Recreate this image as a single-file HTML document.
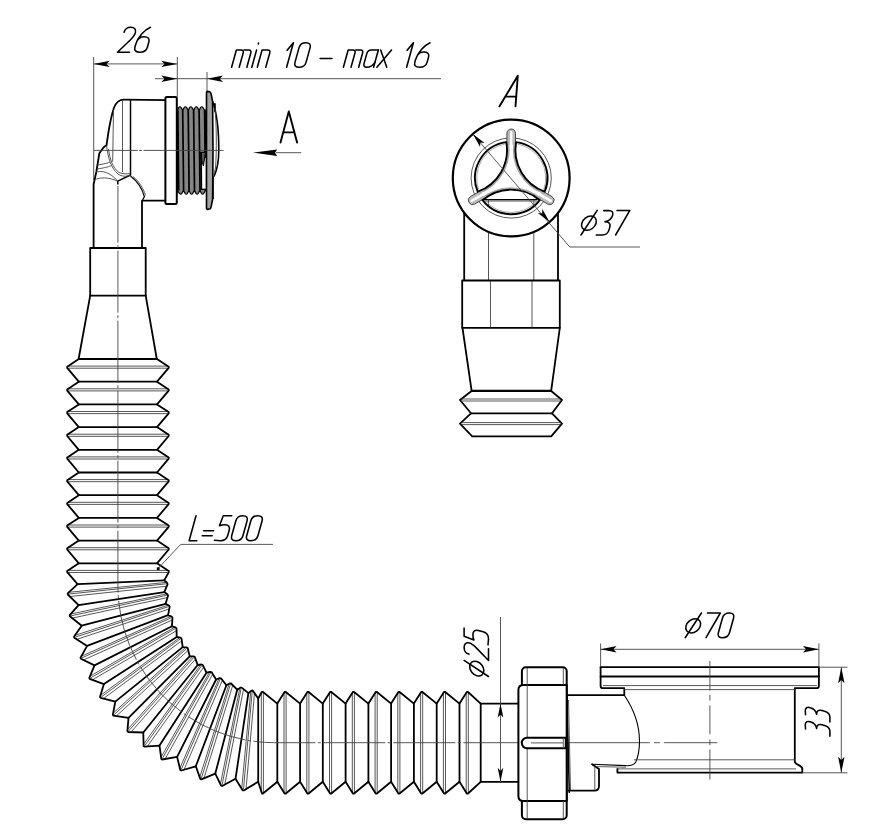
<!DOCTYPE html>
<html><head><meta charset="utf-8"><title>Drawing</title>
<style>html,body{margin:0;padding:0;background:#fff;font-family:"Liberation Sans",sans-serif;}svg{display:block}</style>
</head><body>
<svg width="869" height="830" viewBox="0 0 869 830">
<rect width="869" height="830" fill="#fff"/>
<line x1="93.7" y1="57.0" x2="93.7" y2="180.0" stroke="#444" stroke-width="0.9" fill="none"/>
<line x1="177.3" y1="57.0" x2="177.3" y2="97.0" stroke="#444" stroke-width="0.9" fill="none"/>
<line x1="207.0" y1="72.0" x2="207.0" y2="91.0" stroke="#444" stroke-width="0.9" fill="none"/>
<line x1="93.7" y1="63.9" x2="177.3" y2="63.9" stroke="#444" stroke-width="0.9" fill="none"/>
<polygon points="93.7,63.9 109.7,60.7 106.5,63.9 109.7,67.1" fill="#000"/>
<polygon points="177.3,63.9 161.3,67.1 164.5,63.9 161.3,60.7" fill="#000"/>
<line x1="155.0" y1="78.7" x2="441.0" y2="78.7" stroke="#444" stroke-width="0.9" fill="none"/>
<polygon points="177.3,78.7 161.3,81.9 164.5,78.7 161.3,75.5" fill="#000"/>
<polygon points="207.0,78.7 223.0,75.5 219.8,78.7 223.0,81.9" fill="#000"/>
<path d="M165.4,100.2 L124,99.7 C119,99.7 116.3,101.8 113.9,108 C111.2,116 109.6,124.8 108,135 L106.5,145.3 C104,146 102.4,148.4 99.3,153.5 L96.3,172 L93.6,184.3 L93.6,248" stroke="#000" stroke-width="1.8" fill="none" stroke-linejoin="round" stroke-linecap="round"/>
<path d="M142,248 L142,200.7 L165.4,200.7" stroke="#000" stroke-width="1.8" fill="none" stroke-linejoin="round" stroke-linecap="round"/>
<path d="M130.5,100.2 L130.5,175 L117.8,181.2 L117.8,184.5" stroke="#000" stroke-width="1.5" fill="none" stroke-linejoin="round"/>
<path d="M130.5,176 C137,181 142,188 144.4,196.6 L142.3,200.5" stroke="#000" stroke-width="1.2" fill="none" stroke-linejoin="round"/>
<path d="M133,176.5 C138.5,181 143.5,188 145.5,195.5" stroke="#444" stroke-width="0.9" fill="none"/>
<line x1="122.5" y1="100.5" x2="122.5" y2="172.0" stroke="#444" stroke-width="0.9" fill="none"/>
<path d="M113.5,110 L112.7,161.7" stroke="#444" stroke-width="0.9" fill="none"/>
<path d="M106.5,145.3 C108,158 111,168 118,174 C122,176.5 126,177 130.5,175" stroke="#444" stroke-width="0.9" fill="none"/>
<path d="M108.5,149 C110,160 113,168 119,172.5 C123,174 127,174.5 130.5,173" stroke="#444" stroke-width="0.9" fill="none"/>
<path d="M97.5,165 C104,164 108,163 110,162" stroke="#444" stroke-width="0.9" fill="none"/>
<path d="M96.8,169 C104,168 108,167 111.5,165.5" stroke="#444" stroke-width="0.9" fill="none"/>
<path d="M94.5,180 C100,177 108,177 117.8,181.2" stroke="#444" stroke-width="0.9" fill="none"/>
<path d="M96,172 C102,170.5 110,172 117.8,181.2" stroke="#444" stroke-width="0.9" fill="none"/>
<rect x="165.4" y="97" width="11.4" height="107" rx="1.5" fill="#fff" stroke="#000" stroke-width="2"/>
<path d="M177.5,110 L178.7,107.5 Q179.9,106 181.1,107.5 L182.7,110.4 L184.2,107.5 Q185.4,106 186.6,107.5 L188.2,110.4 L189.6,107.5 Q190.8,106 192.0,107.5 L193.6,110.4 L195.1,107.5 Q196.3,106 197.5,107.5 L199.1,110.4 L200.6,107.5 Q201.8,106 203.0,107.5 L204.6,110.4 L205.3,110 L205.3,190.8 L205.4,190.4 L203.8,193.3 Q202.6,194.8 201.4,193.3 L199.9,190.4 L198.3,193.3 Q197.1,194.8 195.9,193.3 L194.4,190.4 L192.8,193.3 Q191.6,194.8 190.4,193.3 L189.0,190.4 L187.4,193.3 Q186.2,194.8 185.0,193.3 L183.5,190.4 L181.9,193.3 Q180.7,194.8 179.5,193.3 L177.5,190.8 Z" fill="#858585" stroke="#000" stroke-width="1.2" stroke-linejoin="round"/>
<line x1="177.8" y1="110.2" x2="178.7" y2="190.6" stroke="#000" stroke-width="1.7"/>
<line x1="182.7" y1="110.2" x2="183.6" y2="190.6" stroke="#000" stroke-width="1.7"/>
<line x1="188.2" y1="110.2" x2="189.1" y2="190.6" stroke="#000" stroke-width="1.7"/>
<line x1="193.6" y1="110.2" x2="194.5" y2="190.6" stroke="#000" stroke-width="1.7"/>
<line x1="199.1" y1="110.2" x2="200.0" y2="190.6" stroke="#000" stroke-width="1.7"/>
<line x1="204.6" y1="110.2" x2="205.5" y2="190.6" stroke="#000" stroke-width="1.7"/>
<path d="M206.5,92.5 Q206.5,91.4 207.6,91.4 L209.6,91.8 Q210.8,92.2 211.1,94 L212.6,101.5 L213,150 L212.6,199.5 L211.1,206.8 Q210.8,208.8 209.6,209 L207.6,209.4 Q206.5,209.4 206.5,208.3 Z" fill="#a2a2a2" stroke="#000" stroke-width="1.6" stroke-linejoin="round"/>
<path d="M212.6,101.5 C216.5,112 218.8,130 218.8,150 C218.8,160 217,170 214,176.5" stroke="#000" stroke-width="1.6" fill="none"/>
<path d="M212.8,104 L215,104 L215,112" stroke="#000" stroke-width="1.6" fill="none"/>
<path d="M215,108 C216.5,125 216.8,150 215.5,168 L213.2,176" stroke="#444" stroke-width="0.9" fill="none"/>
<path d="M213.2,176 L213.2,199" stroke="#000" stroke-width="1.2" fill="none"/>
<rect x="201.6" y="158" width="4.0" height="31.3" fill="#fff"/>
<path d="M200.6,152.3 L205.6,152.3 L203.4,166 L201.6,160 Z" fill="#555" stroke="#000" stroke-width="1"/>
<line x1="201.2" y1="189.3" x2="206.2" y2="189.3" stroke="#000" stroke-width="1.3"/>
<line x1="201.0" y1="152.0" x2="201.4" y2="190.0" stroke="#000" stroke-width="1.7"/>
<line x1="94.0" y1="150.4" x2="137.8" y2="150.4" stroke="#444" stroke-width="0.9" fill="none"/>
<line x1="139.0" y1="150.4" x2="142.0" y2="150.4" stroke="#444" stroke-width="0.9" fill="none"/>
<line x1="143.6" y1="150.4" x2="223.6" y2="150.4" stroke="#444" stroke-width="0.9" fill="none"/>
<path d="M90.2,248.0 L145.7,248.0 L145.7,295.7 L90.2,295.7 Z" stroke="#000" stroke-width="1.8" fill="none" stroke-linejoin="round" stroke-linecap="round"/>
<path d="M90.2,295.7 L78.6,359.0 L156.8,359.0 L145.7,295.7" stroke="#000" stroke-width="1.8" fill="none" stroke-linejoin="round" stroke-linecap="round"/>
<line x1="276.0" y1="152.7" x2="301.2" y2="152.7" stroke="#444" stroke-width="0.9" fill="none"/>
<polygon points="252.9,152.7 277.2,149.5 275,152.7 277.2,155.9" fill="#000"/>
<path d="M280.5,142.5 L288.8,111.5 L297.1,142.5 M283.7,132.4 L294.3,132.4" stroke="#000" stroke-width="1.9" fill="none" stroke-linecap="round" stroke-linejoin="round"/>
<line x1="78.8" y1="359.0" x2="157.0" y2="359.0" stroke="#000" stroke-width="1.8" fill="none" stroke-linejoin="round" stroke-linecap="round"/>
<line x1="78.8" y1="381.7" x2="157.0" y2="381.7" stroke="#000" stroke-width="1.8" fill="none" stroke-linejoin="round" stroke-linecap="round"/>
<line x1="68.2" y1="366.1" x2="167.7" y2="366.1" stroke="#444" stroke-width="0.9" fill="none"/>
<line x1="68.2" y1="368.2" x2="167.7" y2="368.2" stroke="#444" stroke-width="0.9" fill="none"/>
<line x1="78.8" y1="404.4" x2="157.0" y2="404.4" stroke="#000" stroke-width="1.8" fill="none" stroke-linejoin="round" stroke-linecap="round"/>
<line x1="68.2" y1="388.8" x2="167.7" y2="388.8" stroke="#444" stroke-width="0.9" fill="none"/>
<line x1="68.2" y1="390.9" x2="167.7" y2="390.9" stroke="#444" stroke-width="0.9" fill="none"/>
<line x1="78.8" y1="427.1" x2="157.0" y2="427.1" stroke="#000" stroke-width="1.8" fill="none" stroke-linejoin="round" stroke-linecap="round"/>
<line x1="68.2" y1="411.5" x2="167.7" y2="411.5" stroke="#444" stroke-width="0.9" fill="none"/>
<line x1="68.2" y1="413.6" x2="167.7" y2="413.6" stroke="#444" stroke-width="0.9" fill="none"/>
<line x1="78.8" y1="449.8" x2="157.0" y2="449.8" stroke="#000" stroke-width="1.8" fill="none" stroke-linejoin="round" stroke-linecap="round"/>
<line x1="68.2" y1="434.2" x2="167.7" y2="434.2" stroke="#444" stroke-width="0.9" fill="none"/>
<line x1="68.2" y1="436.3" x2="167.7" y2="436.3" stroke="#444" stroke-width="0.9" fill="none"/>
<line x1="78.8" y1="472.5" x2="157.0" y2="472.5" stroke="#000" stroke-width="1.8" fill="none" stroke-linejoin="round" stroke-linecap="round"/>
<line x1="68.2" y1="456.9" x2="167.7" y2="456.9" stroke="#444" stroke-width="0.9" fill="none"/>
<line x1="68.2" y1="459.0" x2="167.7" y2="459.0" stroke="#444" stroke-width="0.9" fill="none"/>
<line x1="78.8" y1="495.2" x2="157.0" y2="495.2" stroke="#000" stroke-width="1.8" fill="none" stroke-linejoin="round" stroke-linecap="round"/>
<line x1="68.2" y1="479.6" x2="167.7" y2="479.6" stroke="#444" stroke-width="0.9" fill="none"/>
<line x1="68.2" y1="481.7" x2="167.7" y2="481.7" stroke="#444" stroke-width="0.9" fill="none"/>
<line x1="78.8" y1="517.9" x2="157.0" y2="517.9" stroke="#000" stroke-width="1.8" fill="none" stroke-linejoin="round" stroke-linecap="round"/>
<line x1="68.2" y1="502.3" x2="167.7" y2="502.3" stroke="#444" stroke-width="0.9" fill="none"/>
<line x1="68.2" y1="504.4" x2="167.7" y2="504.4" stroke="#444" stroke-width="0.9" fill="none"/>
<line x1="78.8" y1="540.6" x2="157.0" y2="540.6" stroke="#000" stroke-width="1.8" fill="none" stroke-linejoin="round" stroke-linecap="round"/>
<line x1="68.2" y1="525.0" x2="167.7" y2="525.0" stroke="#444" stroke-width="0.9" fill="none"/>
<line x1="68.2" y1="527.1" x2="167.7" y2="527.1" stroke="#444" stroke-width="0.9" fill="none"/>
<line x1="78.8" y1="563.3" x2="157.0" y2="563.3" stroke="#000" stroke-width="1.8" fill="none" stroke-linejoin="round" stroke-linecap="round"/>
<line x1="68.2" y1="547.7" x2="167.7" y2="547.7" stroke="#444" stroke-width="0.9" fill="none"/>
<line x1="68.2" y1="549.8" x2="167.7" y2="549.8" stroke="#444" stroke-width="0.9" fill="none"/>
<line x1="68.2" y1="570.4" x2="167.7" y2="570.4" stroke="#444" stroke-width="0.9" fill="none"/>
<line x1="68.2" y1="572.5" x2="167.7" y2="572.5" stroke="#444" stroke-width="0.9" fill="none"/>
<line x1="77.6" y1="584.2" x2="164.2" y2="580.4" stroke="#000" stroke-width="1.8" fill="none" stroke-linejoin="round" stroke-linecap="round"/>
<line x1="68.9" y1="592.3" x2="166.4" y2="582.4" stroke="#444" stroke-width="0.9" fill="none"/>
<line x1="69.0" y1="594.0" x2="166.4" y2="583.8" stroke="#444" stroke-width="0.9" fill="none"/>
<line x1="69.1" y1="596.6" x2="166.4" y2="586.3" stroke="#444" stroke-width="0.9" fill="none"/>
<line x1="78.6" y1="605.1" x2="164.3" y2="592.1" stroke="#000" stroke-width="1.8" fill="none" stroke-linejoin="round" stroke-linecap="round"/>
<line x1="70.8" y1="614.0" x2="166.7" y2="593.9" stroke="#444" stroke-width="0.9" fill="none"/>
<line x1="71.0" y1="615.8" x2="166.8" y2="595.3" stroke="#444" stroke-width="0.9" fill="none"/>
<line x1="71.4" y1="618.3" x2="167.1" y2="597.7" stroke="#444" stroke-width="0.9" fill="none"/>
<line x1="81.7" y1="625.7" x2="165.6" y2="603.8" stroke="#000" stroke-width="1.8" fill="none" stroke-linejoin="round" stroke-linecap="round"/>
<line x1="74.9" y1="635.4" x2="168.2" y2="605.2" stroke="#444" stroke-width="0.9" fill="none"/>
<line x1="75.4" y1="637.1" x2="168.5" y2="606.6" stroke="#444" stroke-width="0.9" fill="none"/>
<line x1="76.0" y1="639.6" x2="169.0" y2="609.0" stroke="#444" stroke-width="0.9" fill="none"/>
<line x1="87.1" y1="645.9" x2="168.1" y2="615.2" stroke="#000" stroke-width="1.8" fill="none" stroke-linejoin="round" stroke-linecap="round"/>
<line x1="81.3" y1="656.3" x2="170.9" y2="616.4" stroke="#444" stroke-width="0.9" fill="none"/>
<line x1="81.9" y1="657.9" x2="171.3" y2="617.8" stroke="#444" stroke-width="0.9" fill="none"/>
<line x1="82.8" y1="660.3" x2="172.0" y2="620.1" stroke="#444" stroke-width="0.9" fill="none"/>
<line x1="94.5" y1="665.4" x2="171.9" y2="626.3" stroke="#000" stroke-width="1.8" fill="none" stroke-linejoin="round" stroke-linecap="round"/>
<line x1="89.9" y1="676.3" x2="174.7" y2="627.2" stroke="#444" stroke-width="0.9" fill="none"/>
<line x1="90.7" y1="677.9" x2="175.3" y2="628.5" stroke="#444" stroke-width="0.9" fill="none"/>
<line x1="91.8" y1="680.2" x2="176.3" y2="630.8" stroke="#444" stroke-width="0.9" fill="none"/>
<line x1="103.9" y1="684.1" x2="176.7" y2="637.0" stroke="#000" stroke-width="1.8" fill="none" stroke-linejoin="round" stroke-linecap="round"/>
<line x1="100.5" y1="695.4" x2="179.7" y2="637.6" stroke="#444" stroke-width="0.9" fill="none"/>
<line x1="101.4" y1="696.9" x2="180.4" y2="638.8" stroke="#444" stroke-width="0.9" fill="none"/>
<line x1="102.8" y1="699.0" x2="181.6" y2="640.9" stroke="#444" stroke-width="0.9" fill="none"/>
<line x1="115.3" y1="701.6" x2="182.7" y2="647.1" stroke="#000" stroke-width="1.8" fill="none" stroke-linejoin="round" stroke-linecap="round"/>
<line x1="113.1" y1="713.2" x2="185.7" y2="647.3" stroke="#444" stroke-width="0.9" fill="none"/>
<line x1="114.2" y1="714.6" x2="186.5" y2="648.5" stroke="#444" stroke-width="0.9" fill="none"/>
<line x1="115.8" y1="716.5" x2="188.0" y2="650.5" stroke="#444" stroke-width="0.9" fill="none"/>
<line x1="128.5" y1="717.8" x2="189.7" y2="656.4" stroke="#000" stroke-width="1.8" fill="none" stroke-linejoin="round" stroke-linecap="round"/>
<line x1="127.5" y1="729.6" x2="192.7" y2="656.4" stroke="#444" stroke-width="0.9" fill="none"/>
<line x1="128.7" y1="730.9" x2="193.7" y2="657.5" stroke="#444" stroke-width="0.9" fill="none"/>
<line x1="130.5" y1="732.6" x2="195.3" y2="659.3" stroke="#444" stroke-width="0.9" fill="none"/>
<line x1="143.3" y1="732.5" x2="197.7" y2="665.0" stroke="#000" stroke-width="1.8" fill="none" stroke-linejoin="round" stroke-linecap="round"/>
<line x1="143.5" y1="744.3" x2="200.7" y2="664.7" stroke="#444" stroke-width="0.9" fill="none"/>
<line x1="144.9" y1="745.5" x2="201.7" y2="665.7" stroke="#444" stroke-width="0.9" fill="none"/>
<line x1="146.9" y1="747.1" x2="203.6" y2="667.3" stroke="#444" stroke-width="0.9" fill="none"/>
<line x1="159.5" y1="745.6" x2="206.5" y2="672.7" stroke="#000" stroke-width="1.8" fill="none" stroke-linejoin="round" stroke-linecap="round"/>
<line x1="161.0" y1="757.3" x2="209.5" y2="672.1" stroke="#444" stroke-width="0.9" fill="none"/>
<line x1="162.5" y1="758.3" x2="210.6" y2="672.9" stroke="#444" stroke-width="0.9" fill="none"/>
<line x1="164.7" y1="759.7" x2="212.6" y2="674.4" stroke="#444" stroke-width="0.9" fill="none"/>
<line x1="177.1" y1="756.9" x2="216.1" y2="679.5" stroke="#000" stroke-width="1.8" fill="none" stroke-linejoin="round" stroke-linecap="round"/>
<line x1="179.8" y1="768.4" x2="219.0" y2="678.5" stroke="#444" stroke-width="0.9" fill="none"/>
<line x1="181.4" y1="769.2" x2="220.2" y2="679.2" stroke="#444" stroke-width="0.9" fill="none"/>
<line x1="183.7" y1="770.4" x2="222.3" y2="680.5" stroke="#444" stroke-width="0.9" fill="none"/>
<line x1="195.8" y1="766.3" x2="226.4" y2="685.2" stroke="#000" stroke-width="1.8" fill="none" stroke-linejoin="round" stroke-linecap="round"/>
<line x1="199.7" y1="777.4" x2="229.1" y2="683.9" stroke="#444" stroke-width="0.9" fill="none"/>
<line x1="201.4" y1="778.1" x2="230.4" y2="684.5" stroke="#444" stroke-width="0.9" fill="none"/>
<line x1="203.7" y1="779.0" x2="232.7" y2="685.5" stroke="#444" stroke-width="0.9" fill="none"/>
<line x1="215.3" y1="773.6" x2="237.2" y2="689.7" stroke="#000" stroke-width="1.8" fill="none" stroke-linejoin="round" stroke-linecap="round"/>
<line x1="220.4" y1="784.3" x2="239.8" y2="688.2" stroke="#444" stroke-width="0.9" fill="none"/>
<line x1="222.1" y1="784.8" x2="241.1" y2="688.6" stroke="#444" stroke-width="0.9" fill="none"/>
<line x1="224.6" y1="785.4" x2="243.5" y2="689.4" stroke="#444" stroke-width="0.9" fill="none"/>
<line x1="235.5" y1="778.8" x2="248.4" y2="693.1" stroke="#000" stroke-width="1.8" fill="none" stroke-linejoin="round" stroke-linecap="round"/>
<line x1="241.7" y1="788.9" x2="250.8" y2="691.3" stroke="#444" stroke-width="0.9" fill="none"/>
<line x1="243.5" y1="789.2" x2="252.2" y2="691.6" stroke="#444" stroke-width="0.9" fill="none"/>
<line x1="246.0" y1="789.6" x2="254.6" y2="692.1" stroke="#444" stroke-width="0.9" fill="none"/>
<line x1="258.2" y1="698.5" x2="258.2" y2="781.8" stroke="#000" stroke-width="1.8" fill="none" stroke-linejoin="round" stroke-linecap="round"/>
<line x1="261.3" y1="693.0" x2="261.3" y2="792.5" stroke="#444" stroke-width="0.9" fill="none"/>
<line x1="263.4" y1="693.0" x2="263.4" y2="792.5" stroke="#444" stroke-width="0.9" fill="none"/>
<line x1="277.3" y1="703.6" x2="277.3" y2="781.8" stroke="#000" stroke-width="1.8" fill="none" stroke-linejoin="round" stroke-linecap="round"/>
<line x1="284.0" y1="693.0" x2="284.0" y2="792.5" stroke="#444" stroke-width="0.9" fill="none"/>
<line x1="286.1" y1="693.0" x2="286.1" y2="792.5" stroke="#444" stroke-width="0.9" fill="none"/>
<line x1="300.1" y1="703.6" x2="300.1" y2="781.8" stroke="#000" stroke-width="1.8" fill="none" stroke-linejoin="round" stroke-linecap="round"/>
<line x1="306.8" y1="693.0" x2="306.8" y2="792.5" stroke="#444" stroke-width="0.9" fill="none"/>
<line x1="308.9" y1="693.0" x2="308.9" y2="792.5" stroke="#444" stroke-width="0.9" fill="none"/>
<line x1="322.8" y1="703.6" x2="322.8" y2="781.8" stroke="#000" stroke-width="1.8" fill="none" stroke-linejoin="round" stroke-linecap="round"/>
<line x1="329.5" y1="693.0" x2="329.5" y2="792.5" stroke="#444" stroke-width="0.9" fill="none"/>
<line x1="331.6" y1="693.0" x2="331.6" y2="792.5" stroke="#444" stroke-width="0.9" fill="none"/>
<line x1="345.6" y1="703.6" x2="345.6" y2="781.8" stroke="#000" stroke-width="1.8" fill="none" stroke-linejoin="round" stroke-linecap="round"/>
<line x1="352.3" y1="693.0" x2="352.3" y2="792.5" stroke="#444" stroke-width="0.9" fill="none"/>
<line x1="354.4" y1="693.0" x2="354.4" y2="792.5" stroke="#444" stroke-width="0.9" fill="none"/>
<line x1="368.4" y1="703.6" x2="368.4" y2="781.8" stroke="#000" stroke-width="1.8" fill="none" stroke-linejoin="round" stroke-linecap="round"/>
<line x1="375.1" y1="693.0" x2="375.1" y2="792.5" stroke="#444" stroke-width="0.9" fill="none"/>
<line x1="377.2" y1="693.0" x2="377.2" y2="792.5" stroke="#444" stroke-width="0.9" fill="none"/>
<line x1="391.1" y1="703.6" x2="391.1" y2="781.8" stroke="#000" stroke-width="1.8" fill="none" stroke-linejoin="round" stroke-linecap="round"/>
<line x1="397.8" y1="693.0" x2="397.8" y2="792.5" stroke="#444" stroke-width="0.9" fill="none"/>
<line x1="399.9" y1="693.0" x2="399.9" y2="792.5" stroke="#444" stroke-width="0.9" fill="none"/>
<line x1="413.9" y1="703.6" x2="413.9" y2="781.8" stroke="#000" stroke-width="1.8" fill="none" stroke-linejoin="round" stroke-linecap="round"/>
<line x1="420.6" y1="693.0" x2="420.6" y2="792.5" stroke="#444" stroke-width="0.9" fill="none"/>
<line x1="422.7" y1="693.0" x2="422.7" y2="792.5" stroke="#444" stroke-width="0.9" fill="none"/>
<line x1="436.7" y1="703.6" x2="436.7" y2="781.8" stroke="#000" stroke-width="1.8" fill="none" stroke-linejoin="round" stroke-linecap="round"/>
<line x1="443.4" y1="693.0" x2="443.4" y2="792.5" stroke="#444" stroke-width="0.9" fill="none"/>
<line x1="445.5" y1="693.0" x2="445.5" y2="792.5" stroke="#444" stroke-width="0.9" fill="none"/>
<line x1="459.5" y1="703.6" x2="459.5" y2="781.8" stroke="#000" stroke-width="1.8" fill="none" stroke-linejoin="round" stroke-linecap="round"/>
<line x1="466.2" y1="693.0" x2="466.2" y2="792.5" stroke="#444" stroke-width="0.9" fill="none"/>
<line x1="468.3" y1="693.0" x2="468.3" y2="792.5" stroke="#444" stroke-width="0.9" fill="none"/>
<path d="M78.8,359.0 L67.2,366.7 L67.2,367.9 L78.8,381.7 L67.2,389.4 L67.2,390.6 L78.8,404.4 L67.2,412.1 L67.2,413.3 L78.8,427.1 L67.2,434.8 L67.2,436.0 L78.8,449.8 L67.2,457.5 L67.2,458.7 L78.8,472.5 L67.2,480.2 L67.2,481.4 L78.8,495.2 L67.2,502.9 L67.2,504.1 L78.8,517.9 L67.2,525.6 L67.2,526.8 L78.8,540.6 L67.2,548.3 L67.2,549.5 L78.8,563.3 L67.2,571.0 L67.2,572.2 L77.6,584.2 L67.7,593.4 L67.8,594.5 L78.6,605.1 L69.7,615.2 L69.9,616.3 L81.7,625.7 L74.0,636.7 L74.3,637.8 L87.1,645.9 L80.5,657.7 L80.9,658.7 L94.5,665.4 L89.3,677.8 L89.7,678.8 L103.9,684.1 L100.0,696.9 L100.6,697.8 L115.3,701.6 L112.8,714.8 L113.5,715.6 L128.5,717.8 L127.4,731.2 L128.1,732.0 L143.3,732.5 L143.6,746.0 L144.4,746.6 L159.5,745.6 L161.3,758.9 L162.2,759.5 L177.1,756.9 L180.3,770.0 L181.2,770.5 L195.8,766.3 L200.3,778.9 L201.3,779.3 L215.3,773.6 L221.1,785.7 L222.2,786.0 L235.5,778.8 L242.6,790.3 L243.7,790.4 L258.2,781.8 L262.0,793.5 L263.0,793.5 L277.3,781.8 L284.6,793.5 L285.8,793.5 L300.1,781.8 L307.4,793.5 L308.6,793.5 L322.8,781.8 L330.1,793.5 L331.3,793.5 L345.6,781.8 L352.9,793.5 L354.1,793.5 L368.4,781.8 L375.7,793.5 L376.9,793.5 L391.1,781.8 L398.4,793.5 L399.6,793.5 L413.9,781.8 L421.2,793.5 L422.4,793.5 L436.7,781.8 L444.0,793.5 L445.2,793.5 L459.5,781.8 L466.8,793.5 L468.0,793.5 L480.7,781.8" stroke="#000" stroke-width="1.8" fill="none" stroke-linejoin="round" stroke-linecap="round"/>
<path d="M157.0,359.0 L168.7,366.7 L168.7,367.9 L157.0,381.7 L168.7,389.4 L168.7,390.6 L157.0,404.4 L168.7,412.1 L168.7,413.3 L157.0,427.1 L168.7,434.8 L168.7,436.0 L157.0,449.8 L168.7,457.5 L168.7,458.7 L157.0,472.5 L168.7,480.2 L168.7,481.4 L157.0,495.2 L168.7,502.9 L168.7,504.1 L157.0,517.9 L168.7,525.6 L168.7,526.8 L157.0,540.6 L168.7,548.3 L168.7,549.5 L157.0,563.3 L168.7,571.0 L168.7,572.2 L164.2,580.4 L167.0,582.8 L167.6,584.1 L164.3,592.1 L167.3,594.2 L168.1,595.4 L165.6,603.8 L168.9,605.5 L169.7,606.7 L168.1,615.2 L171.6,616.6 L172.5,617.7 L171.9,626.3 L175.4,627.3 L176.5,628.3 L176.7,637.0 L180.4,637.6 L181.5,638.5 L182.7,647.1 L186.4,647.3 L187.7,648.0 L189.7,656.4 L193.4,656.3 L194.7,656.9 L197.7,665.0 L201.4,664.5 L202.7,665.0 L206.5,672.7 L210.1,671.8 L211.5,672.1 L216.1,679.5 L219.6,678.2 L221.0,678.3 L226.4,685.2 L229.7,683.5 L231.1,683.5 L237.2,689.7 L240.3,687.7 L241.7,687.6 L248.4,693.1 L251.3,690.8 L252.7,690.5 L258.2,698.5 L261.8,692.0 L263.0,692.0 L277.3,703.6 L284.6,692.0 L285.8,692.0 L300.1,703.6 L307.4,692.0 L308.6,692.0 L322.8,703.6 L330.1,692.0 L331.3,692.0 L345.6,703.6 L352.9,692.0 L354.1,692.0 L368.4,703.6 L375.7,692.0 L376.9,692.0 L391.1,703.6 L398.4,692.0 L399.6,692.0 L413.9,703.6 L421.2,692.0 L422.4,692.0 L436.7,703.6 L444.0,692.0 L445.2,692.0 L459.5,703.6 L466.8,692.0 L468.0,692.0 L480.7,703.6" stroke="#000" stroke-width="1.8" fill="none" stroke-linejoin="round" stroke-linecap="round"/>
<line x1="480.7" y1="703.6" x2="480.7" y2="781.8" stroke="#000" stroke-width="1.8" fill="none" stroke-linejoin="round" stroke-linecap="round"/>
<path d="M117.9,186 L117.9,585.6 A156.9,156.9 0 0 0 274.8,742.7 L480.7,742.7" stroke="#444" stroke-width="0.9" fill="none" stroke-dasharray="62 2.5 3 2.5" stroke-dashoffset="5.3"/>
<line x1="480.7" y1="742.7" x2="649.7" y2="742.7" stroke="#444" stroke-width="0.9" fill="none"/>
<line x1="654.0" y1="742.7" x2="659.8" y2="742.7" stroke="#444" stroke-width="0.9" fill="none"/>
<line x1="664.1" y1="742.7" x2="717.3" y2="742.7" stroke="#444" stroke-width="0.9" fill="none"/>
<line x1="480.7" y1="703.6" x2="518.4" y2="703.6" stroke="#000" stroke-width="1.8" fill="none" stroke-linejoin="round" stroke-linecap="round"/>
<line x1="480.7" y1="781.8" x2="518.4" y2="781.8" stroke="#000" stroke-width="1.8" fill="none" stroke-linejoin="round" stroke-linecap="round"/>
<path d="M158.5,568 L180.7,544.4 L273,544.4" stroke="#444" stroke-width="0.9" fill="none"/>
<rect x="156.8" y="567.3" width="2.8" height="2.8" fill="#000"/>
<path d="M0,1 L0,0 L0.31,0" transform="matrix(25.000,0,6.933,-25.000,189.10,540.70)" stroke="#000" stroke-width="1.55" fill="none" vector-effect="non-scaling-stroke" stroke-linecap="round" stroke-linejoin="round"/>
<path d="M0,0.4 L0.4,0.4" transform="matrix(25.000,0,6.933,-25.000,200.80,540.70)" stroke="#000" stroke-width="1.55" fill="none" vector-effect="non-scaling-stroke" stroke-linecap="round" stroke-linejoin="round"/>
<path d="M0,0.2 L0.4,0.2" transform="matrix(25.000,0,6.933,-25.000,200.80,540.70)" stroke="#000" stroke-width="1.55" fill="none" vector-effect="non-scaling-stroke" stroke-linecap="round" stroke-linejoin="round"/>
<path d="M0.42,1 L0.08,1 L0.04,0.6 C0.1,0.63 0.18,0.64 0.25,0.64 C0.4,0.64 0.48,0.55 0.48,0.42 L0.48,0.22 C0.48,0.08 0.4,0 0.25,0 L0,0.02" transform="matrix(25.000,0,6.933,-25.000,214.30,540.70)" stroke="#000" stroke-width="1.55" fill="none" vector-effect="non-scaling-stroke" stroke-linecap="round" stroke-linejoin="round"/>
<path d="M0,0.2 L0,0.8 C0,0.93 0.08,1 0.225,1 C0.37,1 0.45,0.93 0.45,0.8 L0.45,0.2 C0.45,0.07 0.37,0 0.225,0 C0.08,0 0,0.07 0,0.2 Z" transform="matrix(25.000,0,6.933,-25.000,230.30,540.70)" stroke="#000" stroke-width="1.55" fill="none" vector-effect="non-scaling-stroke" stroke-linecap="round" stroke-linejoin="round"/>
<path d="M0,0.2 L0,0.8 C0,0.93 0.08,1 0.225,1 C0.37,1 0.45,0.93 0.45,0.8 L0.45,0.2 C0.45,0.07 0.37,0 0.225,0 C0.08,0 0,0.07 0,0.2 Z" transform="matrix(25.000,0,6.933,-25.000,245.30,540.70)" stroke="#000" stroke-width="1.55" fill="none" vector-effect="non-scaling-stroke" stroke-linecap="round" stroke-linejoin="round"/>
<line x1="500.5" y1="617.0" x2="500.5" y2="782.0" stroke="#444" stroke-width="0.9" fill="none"/>
<polygon points="500.5,703.6 503.3,717.6 500.5,714.4 497.7,717.6" fill="#000"/>
<polygon points="500.5,781.8 497.7,767.8 500.5,771.0 503.3,767.8" fill="#000"/>
<path d="M0.48,0.48 A0.29,0.29 0 1 1 -0.10,0.48 A0.29,0.29 0 1 1 0.48,0.48 Z" transform="matrix(0,-24.400,-24.400,-6.767,488.50,676.50)" stroke="#000" stroke-width="1.55" fill="none" vector-effect="non-scaling-stroke" stroke-linecap="round" stroke-linejoin="round"/>
<path d="M0,0 L0.38,1" transform="matrix(0,-24.400,-24.400,-6.767,488.50,676.50)" stroke="#000" stroke-width="1.55" fill="none" vector-effect="non-scaling-stroke" stroke-linecap="round" stroke-linejoin="round"/>
<path d="M0.04,0.8 C0.04,0.93 0.13,1 0.26,1 C0.4,1 0.5,0.92 0.5,0.78 C0.5,0.68 0.45,0.6 0.38,0.5 L0,0 L0.48,0" transform="matrix(0,-24.400,-24.400,-6.767,488.50,660.50)" stroke="#000" stroke-width="1.55" fill="none" vector-effect="non-scaling-stroke" stroke-linecap="round" stroke-linejoin="round"/>
<path d="M0.42,1 L0.08,1 L0.04,0.6 C0.1,0.63 0.18,0.64 0.25,0.64 C0.4,0.64 0.48,0.55 0.48,0.42 L0.48,0.22 C0.48,0.08 0.4,0 0.25,0 L0,0.02" transform="matrix(0,-24.400,-24.400,-6.767,488.50,645.00)" stroke="#000" stroke-width="1.55" fill="none" vector-effect="non-scaling-stroke" stroke-linecap="round" stroke-linejoin="round"/>
<rect x="521.9" y="667.2" width="44.8" height="152" rx="4" fill="#fff" stroke="#000" stroke-width="2"/>
<path d="M566.7,684.9 L523.4,684.9 Q518.4,684.9 518.4,689.9 L518.4,796.1 Q518.4,801.1 523.4,801.1 L566.7,801.1 Z" fill="#fff" stroke="#000" stroke-width="2" stroke-linejoin="round"/>
<line x1="527.2" y1="668.0" x2="527.2" y2="818.5" stroke="#444" stroke-width="0.9" fill="none"/>
<line x1="563.3" y1="668.0" x2="563.3" y2="684.9" stroke="#444" stroke-width="0.9" fill="none"/>
<line x1="563.3" y1="801.1" x2="563.3" y2="818.5" stroke="#444" stroke-width="0.9" fill="none"/>
<path d="M565.8,737.8 L527,737.8 A5.2,5.2 0 0 0 527,748.2 L565.8,748.2 Z" fill="#fff" stroke="#000" stroke-width="2" stroke-linejoin="round"/>
<line x1="563.3" y1="737.8" x2="563.3" y2="748.2" stroke="#444" stroke-width="0.9" fill="none"/>
<line x1="531.0" y1="742.9" x2="563.0" y2="742.9" stroke="#444" stroke-width="0.9" fill="none"/>
<path d="M566.9,695 L569.3,793" stroke="#000" stroke-width="1.5" fill="none"/>
<path d="M568.5,700 L570.5,790" stroke="#444" stroke-width="0.9" fill="none"/>
<path d="M567.9,695.2 L624.3,695.2 L624.3,689.3" stroke="#000" stroke-width="1.8" fill="none" stroke-linejoin="round" stroke-linecap="round"/>
<path d="M568.8,790.7 L594.4,790.7 Q599,790.7 599,786 L599,768.9 L592,764.3" stroke="#000" stroke-width="1.8" fill="none" stroke-linejoin="round" stroke-linecap="round"/>
<path d="M592,764.3 L626,765.6" stroke="#000" stroke-width="1.1" fill="none"/>
<path d="M597,766.6 L626,767.2" stroke="#444" stroke-width="0.9" fill="none"/>
<path d="M594.8,766.5 L594.8,790" stroke="#444" stroke-width="0.9" fill="none"/>
<path d="M624.3,695.2 C633,708 639.5,725 639.5,741.3 C639.5,750 638,757 635.8,762 C634,765 631,766 626,765.8" stroke="#000" stroke-width="1.1" fill="none"/>
<path d="M600.6,667.2 L818.9,667.2 L818.9,686 Q818.9,688.2 816.7,688.2 L794.8,688.2 L794.8,761.4 C794.8,765.5 801.5,764 802.3,768.5 L802.3,772.6 L617.4,772.6 L617.4,768.9" stroke="#000" stroke-width="1.8" fill="none" stroke-linejoin="round" stroke-linecap="round"/>
<path d="M600.6,667.2 L600.6,686 Q600.6,688.2 602.8,688.2 L624.3,688.2" stroke="#000" stroke-width="1.8" fill="none" stroke-linejoin="round" stroke-linecap="round"/>
<line x1="600.6" y1="676.5" x2="818.9" y2="676.5" stroke="#000" stroke-width="1.8" fill="none" stroke-linejoin="round" stroke-linecap="round"/>
<line x1="603.0" y1="685.6" x2="817.0" y2="685.6" stroke="#444" stroke-width="0.9" fill="none"/>
<line x1="624.3" y1="689.6" x2="794.8" y2="689.6" stroke="#444" stroke-width="0.9" fill="none"/>
<line x1="617.4" y1="768.9" x2="796.0" y2="768.9" stroke="#444" stroke-width="0.9" fill="none"/>
<line x1="634.0" y1="759.8" x2="794.8" y2="759.8" stroke="#444" stroke-width="0.9" fill="none"/>
<line x1="709.9" y1="661.0" x2="709.9" y2="690.5" stroke="#444" stroke-width="0.9" fill="none"/>
<line x1="709.9" y1="694.7" x2="709.9" y2="700.6" stroke="#444" stroke-width="0.9" fill="none"/>
<line x1="709.9" y1="705.3" x2="709.9" y2="734.3" stroke="#444" stroke-width="0.9" fill="none"/>
<line x1="709.9" y1="739.4" x2="709.9" y2="745.3" stroke="#444" stroke-width="0.9" fill="none"/>
<line x1="709.9" y1="749.5" x2="709.9" y2="779.5" stroke="#444" stroke-width="0.9" fill="none"/>
<line x1="600.6" y1="643.5" x2="600.6" y2="667.0" stroke="#444" stroke-width="0.9" fill="none"/>
<line x1="818.9" y1="643.5" x2="818.9" y2="667.0" stroke="#444" stroke-width="0.9" fill="none"/>
<line x1="600.6" y1="649.3" x2="818.9" y2="649.3" stroke="#444" stroke-width="0.9" fill="none"/>
<polygon points="600.6,649.3 616.6,646.1 613.4,649.3 616.6,652.5" fill="#000"/>
<polygon points="818.9,649.3 802.9,652.5 806.1,649.3 802.9,646.1" fill="#000"/>
<path d="M0.48,0.48 A0.29,0.29 0 1 1 -0.10,0.48 A0.29,0.29 0 1 1 0.48,0.48 Z" transform="matrix(24.700,0,6.850,-24.700,685.20,637.70)" stroke="#000" stroke-width="1.55" fill="none" vector-effect="non-scaling-stroke" stroke-linecap="round" stroke-linejoin="round"/>
<path d="M0,0 L0.38,1" transform="matrix(24.700,0,6.850,-24.700,685.20,637.70)" stroke="#000" stroke-width="1.55" fill="none" vector-effect="non-scaling-stroke" stroke-linecap="round" stroke-linejoin="round"/>
<path d="M0,1 L0.52,1 L0.22,0" transform="matrix(24.700,0,6.850,-24.700,700.60,637.70)" stroke="#000" stroke-width="1.55" fill="none" vector-effect="non-scaling-stroke" stroke-linecap="round" stroke-linejoin="round"/>
<path d="M0,0.2 L0,0.8 C0,0.93 0.08,1 0.225,1 C0.37,1 0.45,0.93 0.45,0.8 L0.45,0.2 C0.45,0.07 0.37,0 0.225,0 C0.08,0 0,0.07 0,0.2 Z" transform="matrix(24.700,0,6.850,-24.700,717.00,637.70)" stroke="#000" stroke-width="1.55" fill="none" vector-effect="non-scaling-stroke" stroke-linecap="round" stroke-linejoin="round"/>
<line x1="818.9" y1="667.2" x2="847.5" y2="667.2" stroke="#444" stroke-width="0.9" fill="none"/>
<line x1="802.3" y1="772.8" x2="847.5" y2="772.8" stroke="#444" stroke-width="0.9" fill="none"/>
<line x1="841.3" y1="667.2" x2="841.3" y2="772.8" stroke="#444" stroke-width="0.9" fill="none"/>
<polygon points="841.3,667.2 844.5,683.2 841.3,680.0 838.1,683.2" fill="#000"/>
<polygon points="841.3,772.8 838.1,756.8 841.3,760.0 844.5,756.8" fill="#000"/>
<path d="M0.03,0.99 L0.22,1 C0.37,1 0.44,0.93 0.44,0.8 C0.44,0.66 0.36,0.56 0.2,0.54 C0.38,0.54 0.46,0.45 0.46,0.32 L0.46,0.22 C0.46,0.08 0.38,0 0.24,0 L0,0" transform="matrix(0,-20.418,-24.600,-6.822,829.90,736.30)" stroke="#000" stroke-width="1.55" fill="none" vector-effect="non-scaling-stroke" stroke-linecap="round" stroke-linejoin="round"/>
<path d="M0.03,0.99 L0.22,1 C0.37,1 0.44,0.93 0.44,0.8 C0.44,0.66 0.36,0.56 0.2,0.54 C0.38,0.54 0.46,0.45 0.46,0.32 L0.46,0.22 C0.46,0.08 0.38,0 0.24,0 L0,0" transform="matrix(0,-20.418,-24.600,-6.822,829.90,722.10)" stroke="#000" stroke-width="1.55" fill="none" vector-effect="non-scaling-stroke" stroke-linecap="round" stroke-linejoin="round"/>
<line x1="464.2" y1="205.0" x2="464.2" y2="280.0" stroke="#000" stroke-width="1.8" fill="none" stroke-linejoin="round" stroke-linecap="round"/>
<line x1="558.0" y1="205.0" x2="558.0" y2="280.0" stroke="#000" stroke-width="1.8" fill="none" stroke-linejoin="round" stroke-linecap="round"/>
<line x1="488.5" y1="199.6" x2="488.5" y2="280.0" stroke="#444" stroke-width="0.9" fill="none"/>
<line x1="533.8" y1="199.6" x2="533.8" y2="280.0" stroke="#444" stroke-width="0.9" fill="none"/>
<circle cx="511.2" cy="178.0" r="58.4" fill="#fff" stroke="#000" stroke-width="2.2"/>
<circle cx="511.2" cy="178.0" r="40.1" stroke="#444" stroke-width="0.9" fill="none"/>
<line x1="483.7" y1="199.6" x2="537.5" y2="199.6" stroke="#000" stroke-width="1.2"/>
<line x1="485.0" y1="201.0" x2="536.5" y2="201.0" stroke="#444" stroke-width="0.9" fill="none"/>
<line x1="488.5" y1="199.6" x2="488.5" y2="206.0" stroke="#444" stroke-width="0.9" fill="none"/>
<line x1="533.8" y1="199.6" x2="533.8" y2="206.0" stroke="#444" stroke-width="0.9" fill="none"/>
<path d="M515.50,144.80 L515.50,133.30 A4.3,4.3 0 0 0 506.90,133.30 L506.90,144.80" stroke="#444" stroke-width="1" fill="#bcbcbc"/>
<line x1="511.2" y1="147.8" x2="511.2" y2="132.2" stroke="#fff" stroke-width="2.4" stroke-linecap="round"/>
<path d="M480.30,190.88 L470.34,196.63 A4.3,4.3 0 0 0 474.64,204.07 L484.60,198.32" stroke="#444" stroke-width="1" fill="#bcbcbc"/>
<line x1="485.0" y1="193.1" x2="471.5" y2="200.9" stroke="#fff" stroke-width="2.4" stroke-linecap="round"/>
<path d="M537.80,198.32 L547.76,204.07 A4.3,4.3 0 0 0 552.06,196.63 L542.10,190.88" stroke="#444" stroke-width="1" fill="#bcbcbc"/>
<line x1="537.4" y1="193.1" x2="550.9" y2="200.9" stroke="#fff" stroke-width="2.4" stroke-linecap="round"/>
<path d="M478.24,193.28 A45.900000000000006,45.900000000000006 0 0 0 507.95,141.82" stroke="#a8a8a8" stroke-width="1.7" fill="none"/>
<path d="M504.75,144.11 A34.5,34.5 0 0 0 478.62,189.36" stroke="#999" stroke-width="0.8" fill="none"/>
<path d="M506.30,142.13 A36.2,36.2 0 0 0 477.69,191.69 A44.2,44.2 0 0 0 506.30,142.13 Z" stroke="#000" stroke-width="1.9" fill="none" stroke-linejoin="round"/>
<path d="M514.45,141.82 A45.900000000000006,45.900000000000006 0 0 0 544.16,193.28" stroke="#a8a8a8" stroke-width="1.7" fill="none"/>
<path d="M543.78,189.36 A34.5,34.5 0 0 0 517.65,144.11" stroke="#999" stroke-width="0.8" fill="none"/>
<path d="M544.71,191.69 A36.2,36.2 0 0 0 516.10,142.13 A44.2,44.2 0 0 0 544.71,191.69 Z" stroke="#000" stroke-width="1.9" fill="none" stroke-linejoin="round"/>
<path d="M540.91,198.91 A45.900000000000006,45.900000000000006 0 0 0 481.49,198.91" stroke="#a8a8a8" stroke-width="1.7" fill="none"/>
<path d="M485.08,200.53 A34.5,34.5 0 0 0 537.32,200.53" stroke="#999" stroke-width="0.8" fill="none"/>
<path d="M482.59,200.18 A36.2,36.2 0 0 0 539.81,200.18 A44.2,44.2 0 0 0 482.59,200.18 Z" stroke="#000" stroke-width="1.9" fill="none" stroke-linejoin="round"/>
<path d="M462.2,280.5 L559.8,280.5 L559.8,327.8 L462.2,327.8 Z" stroke="#000" stroke-width="1.8" fill="none" stroke-linejoin="round" stroke-linecap="round"/>
<line x1="490.5" y1="281.0" x2="490.5" y2="327.5" stroke="#444" stroke-width="0.9" fill="none"/>
<line x1="532.0" y1="281.0" x2="532.0" y2="327.5" stroke="#444" stroke-width="0.9" fill="none"/>
<path d="M462.5,328.0 L471.6,390.7 L551.2,390.7 L559.8,328.0" stroke="#000" stroke-width="1.8" fill="none" stroke-linejoin="round" stroke-linecap="round"/>
<path d="M471.6,391.0 L460.0,400.0 L471.0,413.3 L460.0,423.6 L472.2,436.3 L551.2,436.3 L562.0,423.6 L552.0,413.3 L562.0,400.0 L551.2,391.0 Z" stroke="#000" stroke-width="1.8" fill="none" stroke-linejoin="round" stroke-linecap="round"/>
<line x1="471.0" y1="413.3" x2="552.0" y2="413.3" stroke="#000" stroke-width="1.8" fill="none" stroke-linejoin="round" stroke-linecap="round"/>
<line x1="461.5" y1="399.0" x2="560.5" y2="399.0" stroke="#444" stroke-width="0.9" fill="none"/>
<line x1="461.5" y1="401.0" x2="560.5" y2="401.0" stroke="#444" stroke-width="0.9" fill="none"/>
<line x1="461.5" y1="422.6" x2="560.5" y2="422.6" stroke="#444" stroke-width="0.9" fill="none"/>
<line x1="461.5" y1="424.6" x2="560.5" y2="424.6" stroke="#444" stroke-width="0.9" fill="none"/>
<path d="M472.8,134.0 L569.8,247 L640,247" stroke="#444" stroke-width="0.9" fill="none"/>
<polygon points="472.8,134.0 484.6,143.0 480.2,142.5 480.1,146.9" fill="#000"/>
<polygon points="549.6,222.0 537.8,213.0 542.2,213.5 542.3,209.1" fill="#000"/>
<path d="M0.48,0.48 A0.29,0.29 0 1 1 -0.10,0.48 A0.29,0.29 0 1 1 0.48,0.48 Z" transform="matrix(24.600,0,6.822,-24.600,581.00,235.00)" stroke="#000" stroke-width="1.55" fill="none" vector-effect="non-scaling-stroke" stroke-linecap="round" stroke-linejoin="round"/>
<path d="M0,0 L0.38,1" transform="matrix(24.600,0,6.822,-24.600,581.00,235.00)" stroke="#000" stroke-width="1.55" fill="none" vector-effect="non-scaling-stroke" stroke-linecap="round" stroke-linejoin="round"/>
<path d="M0.03,0.99 L0.22,1 C0.37,1 0.44,0.93 0.44,0.8 C0.44,0.66 0.36,0.56 0.2,0.54 C0.38,0.54 0.46,0.45 0.46,0.32 L0.46,0.22 C0.46,0.08 0.38,0 0.24,0 L0,0" transform="matrix(24.600,0,6.822,-24.600,596.30,235.00)" stroke="#000" stroke-width="1.55" fill="none" vector-effect="non-scaling-stroke" stroke-linecap="round" stroke-linejoin="round"/>
<path d="M0,1 L0.52,1 L0.22,0" transform="matrix(24.600,0,6.822,-24.600,610.20,235.00)" stroke="#000" stroke-width="1.55" fill="none" vector-effect="non-scaling-stroke" stroke-linecap="round" stroke-linejoin="round"/>
<path d="M499.5,106.3 L517.8,75.7 L515.5,106.3 M505.8,96.6 L516.4,96.6" stroke="#000" stroke-width="1.9" fill="none" stroke-linecap="round" stroke-linejoin="round"/>
<path d="M0.04,0.8 C0.04,0.93 0.13,1 0.26,1 C0.4,1 0.5,0.92 0.5,0.78 C0.5,0.68 0.45,0.6 0.38,0.5 L0,0 L0.48,0" transform="matrix(25.000,0,6.933,-25.000,117.50,52.20)" stroke="#000" stroke-width="1.55" fill="none" vector-effect="non-scaling-stroke" stroke-linecap="round" stroke-linejoin="round"/>
<path d="M0.4,1 C0.2,0.9 0,0.6 0,0.3 L0,0.2 C0,0.07 0.1,0 0.25,0 C0.4,0 0.5,0.07 0.5,0.2 L0.5,0.42 C0.5,0.55 0.4,0.62 0.25,0.62 C0.12,0.62 0.04,0.56 0.01,0.42" transform="matrix(25.000,0,6.933,-25.000,133.50,52.20)" stroke="#000" stroke-width="1.55" fill="none" vector-effect="non-scaling-stroke" stroke-linecap="round" stroke-linejoin="round"/>
<path d="M0,0 L0,0.7 L0.2,0.7 C0.27,0.7 0.31,0.66 0.31,0.58 L0.31,0" transform="matrix(24.600,0,6.822,-24.600,231.60,67.30)" stroke="#000" stroke-width="1.55" fill="none" vector-effect="non-scaling-stroke" stroke-linecap="round" stroke-linejoin="round"/>
<path d="M0.31,0.7 L0.51,0.7 C0.58,0.7 0.62,0.66 0.62,0.58 L0.62,0" transform="matrix(24.600,0,6.822,-24.600,231.60,67.30)" stroke="#000" stroke-width="1.55" fill="none" vector-effect="non-scaling-stroke" stroke-linecap="round" stroke-linejoin="round"/>
<path d="M0,0 L0,0.7" transform="matrix(24.600,0,6.822,-24.600,251.80,67.30)" stroke="#000" stroke-width="1.55" fill="none" vector-effect="non-scaling-stroke" stroke-linecap="round" stroke-linejoin="round"/>
<path d="M0,0.95 L0,0.99" transform="matrix(24.600,0,6.822,-24.600,251.80,67.30)" stroke="#000" stroke-width="1.55" fill="none" vector-effect="non-scaling-stroke" stroke-linecap="round" stroke-linejoin="round"/>
<path d="M0,0 L0,0.7 L0.23,0.7 C0.3,0.7 0.345,0.66 0.345,0.58 L0.345,0" transform="matrix(24.600,0,6.822,-24.600,257.30,67.30)" stroke="#000" stroke-width="1.55" fill="none" vector-effect="non-scaling-stroke" stroke-linecap="round" stroke-linejoin="round"/>
<path d="M-0.17,0.69 L0,1 L0,0" transform="matrix(24.600,0,6.822,-24.600,286.60,67.30)" stroke="#000" stroke-width="1.55" fill="none" vector-effect="non-scaling-stroke" stroke-linecap="round" stroke-linejoin="round"/>
<path d="M0,0.2 L0,0.8 C0,0.93 0.08,1 0.225,1 C0.37,1 0.45,0.93 0.45,0.8 L0.45,0.2 C0.45,0.07 0.37,0 0.225,0 C0.08,0 0,0.07 0,0.2 Z" transform="matrix(24.600,0,6.822,-24.600,293.60,67.30)" stroke="#000" stroke-width="1.55" fill="none" vector-effect="non-scaling-stroke" stroke-linecap="round" stroke-linejoin="round"/>
<path d="M0,0.36 L0.48,0.36" transform="matrix(24.600,0,6.822,-24.600,317.70,67.30)" stroke="#000" stroke-width="1.55" fill="none" vector-effect="non-scaling-stroke" stroke-linecap="round" stroke-linejoin="round"/>
<path d="M0,0 L0,0.7 L0.2,0.7 C0.27,0.7 0.31,0.66 0.31,0.58 L0.31,0" transform="matrix(24.600,0,6.822,-24.600,343.40,67.30)" stroke="#000" stroke-width="1.55" fill="none" vector-effect="non-scaling-stroke" stroke-linecap="round" stroke-linejoin="round"/>
<path d="M0.31,0.7 L0.51,0.7 C0.58,0.7 0.62,0.66 0.62,0.58 L0.62,0" transform="matrix(24.600,0,6.822,-24.600,343.40,67.30)" stroke="#000" stroke-width="1.55" fill="none" vector-effect="non-scaling-stroke" stroke-linecap="round" stroke-linejoin="round"/>
<path d="M0.43,0.7 L0.43,0" transform="matrix(24.600,0,6.822,-24.600,363.00,67.30)" stroke="#000" stroke-width="1.55" fill="none" vector-effect="non-scaling-stroke" stroke-linecap="round" stroke-linejoin="round"/>
<path d="M0.43,0.7 L0.15,0.7 C0.05,0.7 0,0.64 0,0.55 L0,0.15 C0,0.06 0.05,0 0.15,0 C0.28,0 0.38,0.08 0.43,0.2" transform="matrix(24.600,0,6.822,-24.600,363.00,67.30)" stroke="#000" stroke-width="1.55" fill="none" vector-effect="non-scaling-stroke" stroke-linecap="round" stroke-linejoin="round"/>
<path d="M0,0 L0.4,0.7" transform="matrix(24.600,0,6.822,-24.600,376.90,67.30)" stroke="#000" stroke-width="1.55" fill="none" vector-effect="non-scaling-stroke" stroke-linecap="round" stroke-linejoin="round"/>
<path d="M-0.04,0.7 L0.4,0" transform="matrix(24.600,0,6.822,-24.600,376.90,67.30)" stroke="#000" stroke-width="1.55" fill="none" vector-effect="non-scaling-stroke" stroke-linecap="round" stroke-linejoin="round"/>
<path d="M-0.17,0.69 L0,1 L0,0" transform="matrix(24.600,0,6.822,-24.600,406.60,67.30)" stroke="#000" stroke-width="1.55" fill="none" vector-effect="non-scaling-stroke" stroke-linecap="round" stroke-linejoin="round"/>
<path d="M0.4,1 C0.2,0.9 0,0.6 0,0.3 L0,0.2 C0,0.07 0.1,0 0.25,0 C0.4,0 0.5,0.07 0.5,0.2 L0.5,0.42 C0.5,0.55 0.4,0.62 0.25,0.62 C0.12,0.62 0.04,0.56 0.01,0.42" transform="matrix(24.600,0,6.822,-24.600,413.40,67.30)" stroke="#000" stroke-width="1.55" fill="none" vector-effect="non-scaling-stroke" stroke-linecap="round" stroke-linejoin="round"/>
</svg>
</body></html>
